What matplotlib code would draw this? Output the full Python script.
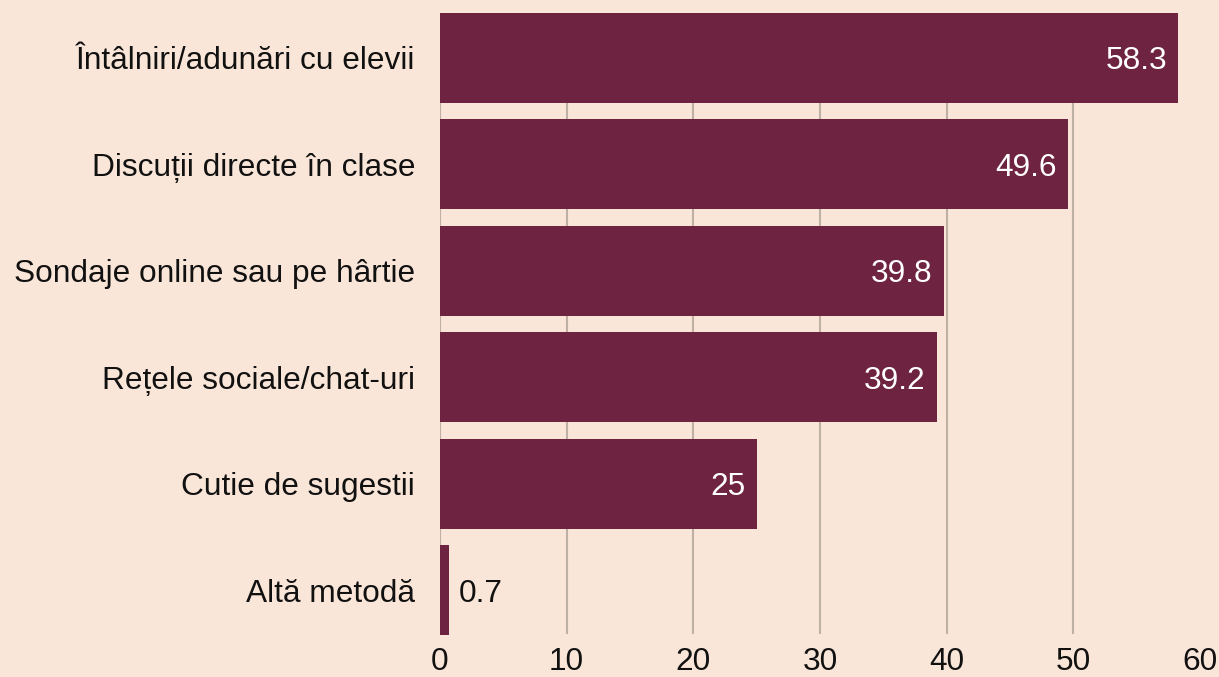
import matplotlib
matplotlib.use("Agg")
import matplotlib.pyplot as plt

categories = ["Întâlniri/adunări cu elevii", "Discuții directe în clase",
              "Sondaje online sau pe hârtie", "Rețele sociale/chat-uri",
              "Cutie de sugestii", "Altă metodă"]
values = [58.3, 49.6, 39.8, 39.2, 25, 0.7]
value_labels = ["58.3", "49.6", "39.8", "39.2", "25", "0.7"]
xticks = [0, 10, 20, 30, 40, 50, 60]

BG = "#FAE6D8"
BAR = "#6E2340"
GRID = "#BFB0A6"
FS = 22.8

plt.rcParams['font.family'] = ['Liberation Sans', 'DejaVu Sans']

fig = plt.figure(figsize=(12.19, 6.77), dpi=100, facecolor=BG)
W, H = 1219, 677
left, right, top, bottom = 440, 1200, 13, 634
ax = fig.add_axes([left / W, 1 - bottom / H, (right - left) / W, (bottom - top) / H])
ax.set_facecolor(BG)

n = len(categories)
ypos = list(range(n - 1, -1, -1))
ax.barh(ypos, values, height=0.845, color=BAR, zorder=3, clip_on=False)
ax.set_xlim(0, 60)
ax.set_ylim(-0.413, n - 1 + 0.4225)
ax.set_xticks(xticks)
ax.set_xticklabels([str(t) for t in xticks], fontsize=FS, color="#111111")
ax.set_yticks(ypos)
ax.set_yticklabels(categories, fontsize=FS, color="#111111")
ax.tick_params(axis='y', length=0, pad=18)
ax.tick_params(axis='x', length=0, pad=9)
for s in ax.spines.values():
    s.set_visible(False)
for t in xticks[:-1]:
    ax.axvline(t, color=GRID, linewidth=1.5, zorder=0)

for y, v, lab in zip(ypos, values, value_labels):
    if v > 10:
        ax.text(v - 0.9, y, lab, ha='right', va='center_baseline', color='white', fontsize=FS, zorder=4)
    else:
        ax.text(v + 0.8, y, lab, ha='left', va='center_baseline', color='#111111', fontsize=FS, zorder=4)

fig.savefig("out.png", dpi=100, facecolor=BG)
